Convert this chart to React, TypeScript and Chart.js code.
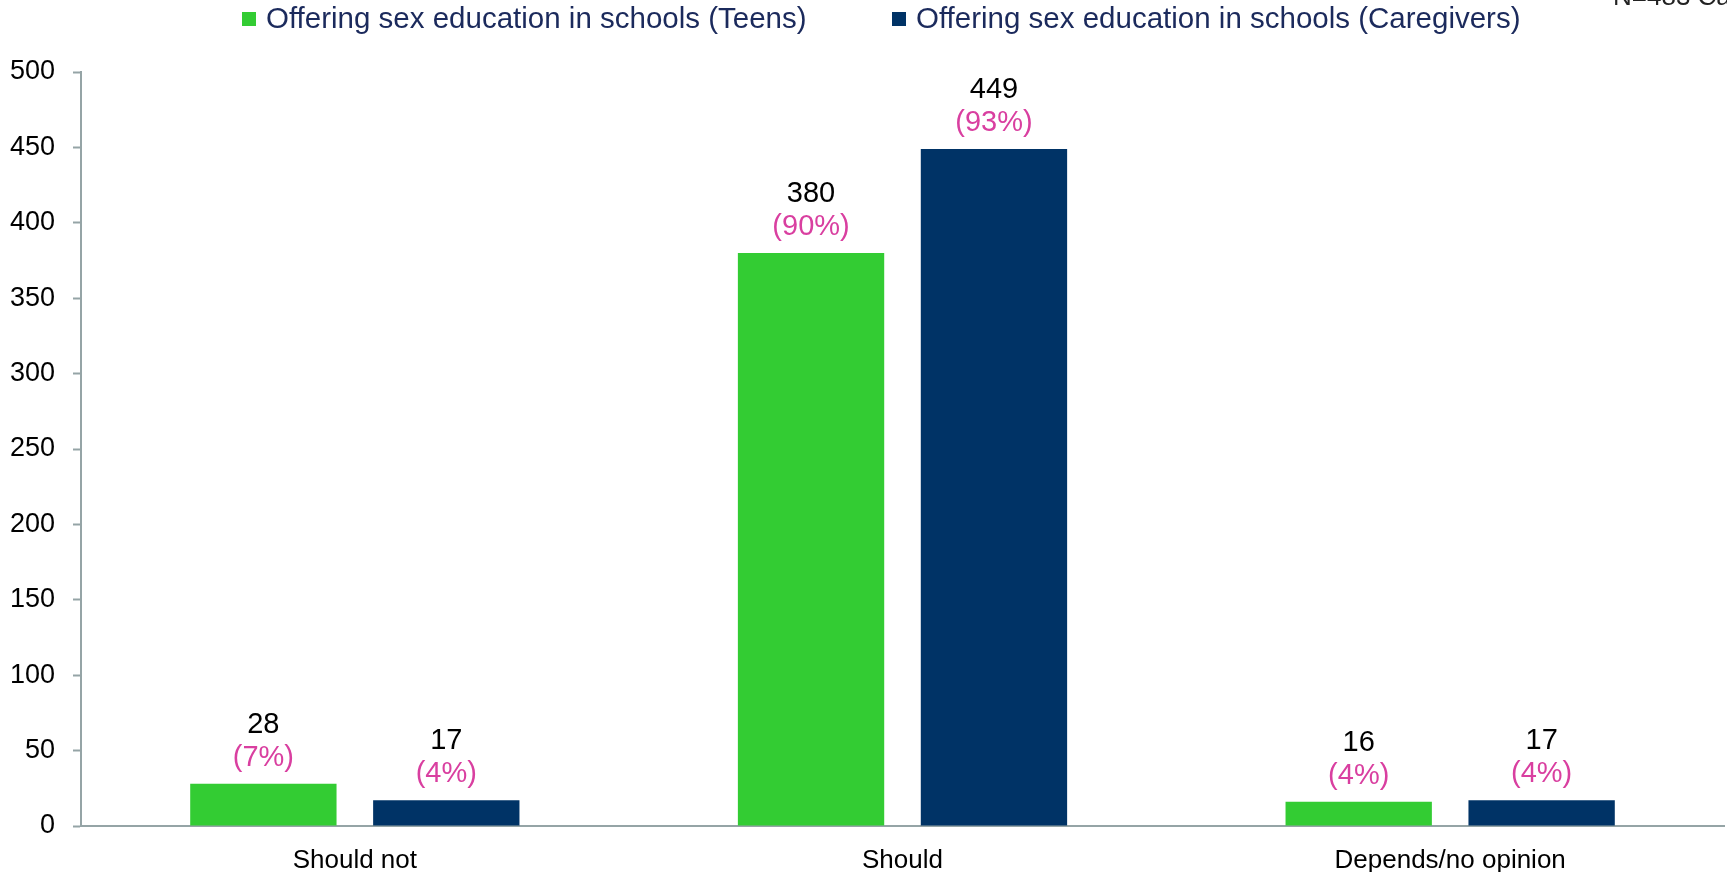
import React, { useEffect, useRef } from "react";
import { Chart, registerables } from "chart.js";

Chart.register(...registerables);

const categories = ["Should not", "Should", "Depends/no opinion"];
const seriesLabels = [
  "Offering sex education in schools (Teens)",
  "Offering sex education in schools (Caregivers)",
];
const teensValues = [28, 380, 16];
const caregiversValues = [17, 449, 17];
const teensPercents = ["(7%)", "(90%)", "(4%)"];
const caregiversPercents = ["(4%)", "(93%)", "(4%)"];
const yTicks = [0, 50, 100, 150, 200, 250, 300, 350, 400, 450, 500];
const sampleNote = "N=483 Caregivers";

const FONT = "'Liberation Sans', Arial, Helvetica, sans-serif";
const GREEN = "#33CC33";
const NAVY = "#003366";
const AXIS = "#95A4A6";
const PINK = "#D93FA0";
const LEGEND_TEXT = "#1B2A5C";

const percents = [teensPercents, caregiversPercents];

const dataLabelsPlugin = {
  id: "dataLabels",
  afterDatasetsDraw(chart: any) {
    const ctx = chart.ctx;
    ctx.save();
    ctx.textAlign = "center";
    ctx.textBaseline = "alphabetic";
    ctx.font = `29px ${FONT}`;
    chart.data.datasets.forEach((ds: any, i: number) => {
      const meta = chart.getDatasetMeta(i);
      meta.data.forEach((bar: any, j: number) => {
        ctx.fillStyle = "#000000";
        ctx.fillText(String(ds.data[j]), bar.x, bar.y - 51);
        ctx.fillStyle = PINK;
        ctx.fillText(percents[i][j], bar.x, bar.y - 18);
      });
    });
    ctx.restore();
  },
};

const legendPlugin = {
  id: "customLegend",
  afterDraw(chart: any) {
    const ctx = chart.ctx;
    ctx.save();
    ctx.font = `29.5px ${FONT}`;
    ctx.textBaseline = "alphabetic";
    ctx.textAlign = "left";
    const boxXs = [242, 892];
    chart.data.datasets.forEach((ds: any, i: number) => {
      const bx = boxXs[i];
      ctx.fillStyle = ds.backgroundColor;
      ctx.fillRect(bx, 12, 14, 14);
      ctx.fillStyle = LEGEND_TEXT;
      ctx.fillText(ds.label, bx + 24, 28);
    });
    ctx.font = `26px ${FONT}`;
    ctx.fillStyle = "#222222";
    ctx.fillText(sampleNote, 1613, 5);
    ctx.restore();
  },
};

export default function App() {
  const canvasRef = useRef<HTMLCanvasElement | null>(null);

  useEffect(() => {
    if (!canvasRef.current) return;
    const chart = new Chart(canvasRef.current, {
      type: "bar",
      data: {
        labels: categories,
        datasets: [
          {
            label: seriesLabels[0],
            data: teensValues,
            backgroundColor: GREEN,
            categoryPercentage: 0.668,
            barPercentage: 0.8,
          },
          {
            label: seriesLabels[1],
            data: caregiversValues,
            backgroundColor: NAVY,
            categoryPercentage: 0.668,
            barPercentage: 0.8,
          },
        ],
      },
      options: {
        responsive: false,
        animation: false,
        layout: { padding: { top: 72, right: 3, left: 0, bottom: 0 } },
        plugins: {
          legend: { display: false },
          tooltip: { enabled: false },
          title: { display: false },
        },
        scales: {
          x: {
            grid: { display: false },
            border: { display: true, color: AXIS, width: 2 },
            ticks: {
              color: "#000000",
              font: { size: 26, family: FONT },
              padding: 11,
              maxRotation: 0,
              autoSkip: false,
            },
            afterFit: (s: any) => {
              s.height = 46;
            },
          },
          y: {
            min: 0,
            max: 500,
            afterBuildTicks: (s: any) => {
              s.ticks = yTicks.map((v) => ({ value: v }));
            },
            grid: {
              drawOnChartArea: false,
              drawTicks: true,
              tickLength: 8,
              tickColor: AXIS,
              tickWidth: 2,
            },
            border: { display: true, color: AXIS, width: 2 },
            ticks: {
              color: "#000000",
              font: { size: 27, family: FONT },
              padding: 18,
            },
            afterFit: (s: any) => {
              s.width = 81;
            },
          },
        },
      },
      plugins: [dataLabelsPlugin, legendPlugin],
    });
    return () => chart.destroy();
  }, []);

  return (
    <div style={{ position: "fixed", left: 0, top: 0, width: 1727, height: 872, background: "#ffffff" }}>
      <canvas ref={canvasRef} width={1727} height={872} style={{ display: "block" }} />
    </div>
  );
}
